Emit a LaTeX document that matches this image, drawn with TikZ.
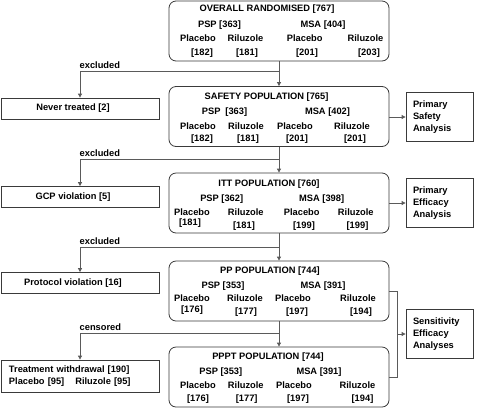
\documentclass[tikz,border=0pt]{standalone}
\usepackage{fontspec}
\setmainfont{Liberation Sans}
\usetikzlibrary{arrows.meta}
\definecolor{boxc}{HTML}{3A3A3A}
\definecolor{linec}{HTML}{5A5A5A}
\newcommand\fs{\fontsize{9.3}{12}\selectfont\bfseries}
\tikzset{
 mainbox/.style={draw=boxc, line width=0.8pt, rounded corners=7pt, minimum width=220pt, minimum height=60pt, inner sep=0pt},
 sidebox/.style={draw=boxc, line width=0.8pt, minimum width=158pt, minimum height=21pt, inner sep=0pt, font=\fs},
 resbox/.style={draw=boxc, line width=0.8pt, minimum width=67pt, minimum height=49pt, text width=53pt, align=left, inner xsep=7pt, inner ysep=0pt, font=\fs},
 tx/.style={inner sep=0pt, font=\fs, text height=6.7pt, text depth=0pt},
 conn/.style={draw=linec, line width=0.8pt},
 arr/.style={conn, -{Triangle[length=4pt,width=4pt]}},
 lab/.style={inner sep=1pt, font=\fs, anchor=south west},
}
\begin{document}
\begin{tikzpicture}[x=1pt,y=-1pt]
\useasboundingbox (0,0) rectangle (481,408);
% main boxes
\node[mainbox] (b1) at (279,31) {};
\node[mainbox] (b2) at (279,116.5) {};
\node[mainbox] (b3) at (279,203) {};
\node[mainbox] (b4) at (279,291) {};
\node[mainbox] (b5) at (279,377) {};
% box 1
\node[tx] (t1) at (267,8) {OVERALL RANDOMISED [767]};
\node[tx] (t1p) at (219.5,24.5) {PSP [363]};
\node[tx] (t1m) at (323,24.5) {MSA [404]};
\node[tx] (t1a) at (198,38.5) {Placebo};
\node[tx] (t1b) at (245.5,38.5) {Riluzole};
\node[tx] (t1c) at (304.7,38.5) {Placebo};
\node[tx] (t1d) at (365.5,38.5) {Riluzole};
\node[tx] (n1a) at (202,52) {[182]};
\node[tx] (n1b) at (247,52) {[181]};
\node[tx] (n1c) at (307,52) {[201]};
\node[tx] (n1d) at (369,52) {[203]};
% box 2
\node[tx] (t2) at (266.5,96) {SAFETY POPULATION [765]};
\node[tx] (t2p) at (224.5,111) {PSP\hspace{5pt}[363]};
\node[tx] (t2m) at (327.5,111) {MSA [402]};
\node[tx] (t2a) at (198,126) {Placebo};
\node[tx] (t2b) at (246,126) {Riluzole};
\node[tx] (t2c) at (295,126) {Placebo};
\node[tx] (t2d) at (352,126) {Riluzole};
\node[tx] (n2a) at (202,138.5) {[182]};
\node[tx] (n2b) at (248,138.5) {[181]};
\node[tx] (n2c) at (297,138.5) {[201]};
\node[tx] (n2d) at (355,138.5) {[201]};
% box 3
\node[tx] (t3) at (269,183) {ITT POPULATION [760]};
\node[tx] (t3p) at (221.7,198) {PSP [362]};
\node[tx] (t3m) at (321.7,198) {MSA [398]};
\node[tx] (t3a) at (192,212) {Placebo};
\node[tx] (t3b) at (245.8,212) {Riluzole};
\node[tx] (t3c) at (301.7,212) {Placebo};
\node[tx] (t3d) at (355.8,212) {Riluzole};
\node[tx] (n3a) at (190,222.5) {[181]};
\node[tx] (n3b) at (244,225) {[181]};
\node[tx] (n3c) at (304,225) {[199]};
\node[tx] (n3d) at (357.5,225) {[199]};
% box 4
\node[tx] (t4) at (270,270) {PP POPULATION [744]};
\node[tx] (t4p) at (223,285.5) {PSP [353]};
\node[tx] (t4m) at (323,285.5) {MSA [391]};
\node[tx] (t4a) at (192,298.5) {Placebo};
\node[tx] (t4b) at (245,298.5) {Riluzole};
\node[tx] (t4c) at (293,298.5) {Placebo};
\node[tx] (t4d) at (358,298.5) {Riluzole};
\node[tx] (n4a) at (192,309) {[176]};
\node[tx] (n4b) at (246,311.5) {[177]};
\node[tx] (n4c) at (297,311.5) {[197]};
\node[tx] (n4d) at (361,311.5) {[194]};
% box 5
\node[tx] (t5) at (268,356) {PPPT POPULATION [744]};
\node[tx] (t5p) at (220.8,371) {PSP [353]};
\node[tx] (t5m) at (319,371) {MSA [391]};
\node[tx] (t5a) at (198,385) {Placebo};
\node[tx] (t5b) at (245.8,385) {Riluzole};
\node[tx] (t5c) at (294,385) {Placebo};
\node[tx] (t5d) at (357.5,385) {Riluzole};
\node[tx] (n5a) at (198,398) {[176]};
\node[tx] (n5b) at (246.7,398) {[177]};
\node[tx] (n5c) at (298,398) {[197]};
\node[tx] (n5d) at (362.5,398) {[194]};
% side boxes
\node[sidebox] (nt) at (80,108.5) {\hspace*{-14pt}Never treated [2]};
\node[sidebox] (gcp) at (80,197) {\hspace*{-14pt}GCP violation [5]};
\node[sidebox] (pv) at (80,283) {\hspace*{-14pt}Protocol violation [16]};
\node[sidebox, minimum height=32pt, text width=142pt, inner xsep=8pt, align=left] (tw) at (80,376)
  {Treatment withdrawal [190]\\Placebo [95]\hspace{11pt}Riluzole [95]};
% result boxes
\node[resbox] (psa) at (439.5,117) {Primary\\Safety\\Analysis};
\node[resbox] (pea) at (439.5,203) {Primary\\Efficacy\\Analysis};
\node[resbox] (sea) at (439.5,334) {Sensitivity\\Efficacy\\Analyses};
% main flow
\draw[arr] (b1.south) -- (b2.north);
\draw[arr] (b2.south) -- (b3.north);
\draw[arr] (b3.south) -- (b4.north);
\draw[arr] (b4.south) -- (b5.north);
% branches
\coordinate (j1) at (279,71);
\coordinate (j2) at (279,159);
\coordinate (j3) at (279,247);
\coordinate (j4) at (279,333);
\draw[arr] (j1) -| (nt.north);
\draw[arr] (j2) -| (gcp.north);
\draw[arr] (j3) -| (pv.north);
\draw[arr] (j4) -| (tw.north);
\node[lab] (l1) at (78.5,70) {excluded};
\node[lab] (l2) at (78.5,158) {excluded};
\node[lab] (l3) at (78.5,246) {excluded};
\node[lab] (l4) at (78.5,332) {censored};
% analyses
\draw[arr] (psa.west -| b2.east) -- (psa.west);
\draw[arr] (b3.east) -- (pea.west);
\draw[conn] (b4.east) -- ++(8,0) |- (b5.east);
\coordinate (bm) at (397,334);
\draw[arr] (bm) -- (sea.west);
\end{tikzpicture}
\end{document}
